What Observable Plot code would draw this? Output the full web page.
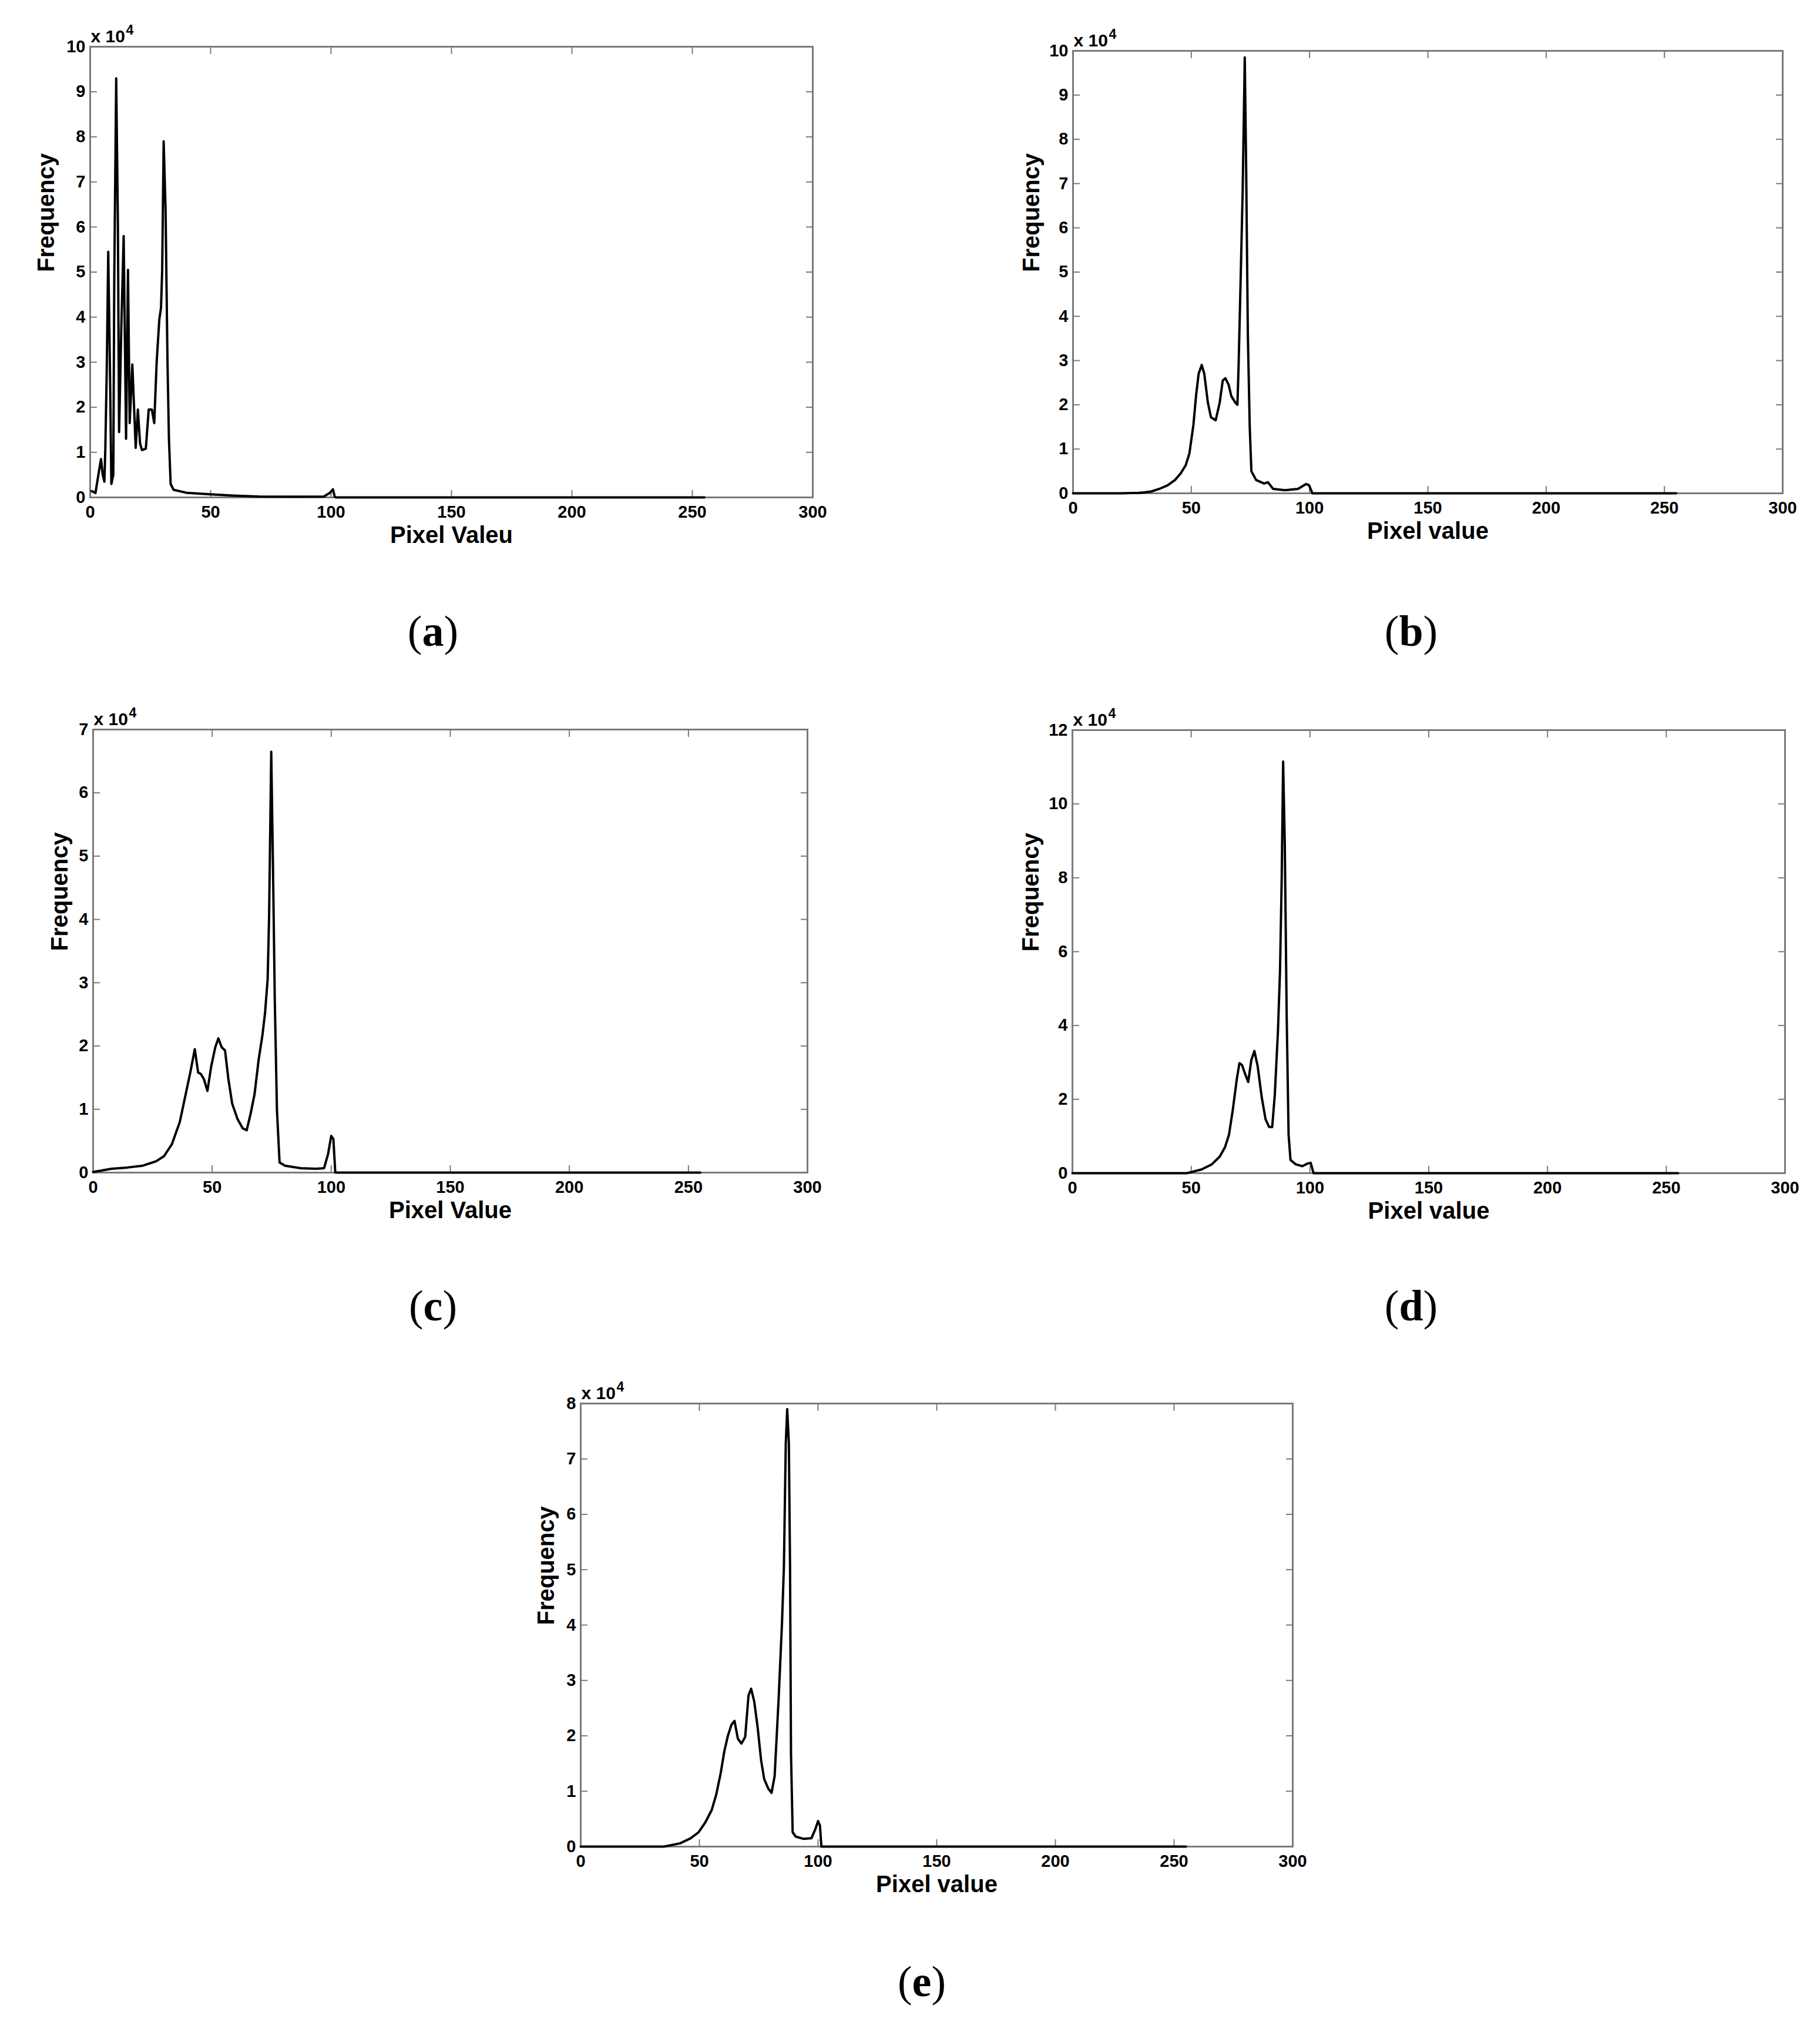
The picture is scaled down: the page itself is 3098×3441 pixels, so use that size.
<!DOCTYPE html>
<html>
<head>
<meta charset="utf-8">
<script src="https://cdn.jsdelivr.net/npm/d3@7"></script>
<script src="https://cdn.jsdelivr.net/npm/@observablehq/plot@0.6"></script>
<style>
  html, body { margin: 0; padding: 0; background: #fff; }
  #page { position: relative; width: 3098px; height: 3441px; background: #fff; overflow: hidden; }
  .panel { position: absolute; }
  .cap { position: absolute; transform: translate(-50%, -50%); font-family: "Liberation Serif", "DejaVu Serif", serif; font-size: 74px; line-height: 1; white-space: nowrap; color: #000; }
</style>
</head>
<body>
<div id="page"></div>
<script>
// ---------- data (frequency in units of 10^4) ----------
const xTicks = [0, 50, 100, 150, 200, 250, 300];
const yTicksA = [0, 1, 2, 3, 4, 5, 6, 7, 8, 9, 10];
const yTicksB = [0, 1, 2, 3, 4, 5, 6, 7, 8, 9, 10];
const yTicksC = [0, 1, 2, 3, 4, 5, 6, 7];
const yTicksD = [0, 2, 4, 6, 8, 10, 12];
const yTicksE = [0, 1, 2, 3, 4, 5, 6, 7, 8];

const xLabels = ["Pixel Valeu", "Pixel value", "Pixel Value", "Pixel value", "Pixel value"];
const yLabel = "Frequency";
const scaleNote = "x 10";
const scaleExp = "4";
const captions = ["a", "b", "c", "d", "e"];

const pixA = [0.6, 2.2, 3.4, 4.5, 5.2, 5.9, 6.3, 6.9, 7.5, 8.2, 8.8, 9.6, 10, 10.8, 11.5, 12, 12.9, 13.9, 14.9, 15.7, 16.4, 17.5, 18.9, 19.8, 20.7, 21.5, 23.1, 24.3, 25.6, 26.6, 27.6, 28.7, 29.4, 29.9, 30.5, 31.3, 32.1, 32.7, 33.4, 34.6, 40.3, 50, 60, 70, 85, 97, 99.5, 100.8, 101.5, 102, 255];
const freqA = [0.14, 0.1, 0.5, 0.85, 0.5, 0.35, 1.1, 2.9, 5.45, 2.9, 0.3, 0.5, 4.85, 9.3, 6.1, 1.45, 3.7, 5.8, 1.3, 5.05, 1.65, 2.95, 1.1, 1.95, 1.2, 1.05, 1.08, 1.95, 1.95, 1.65, 3.0, 3.95, 4.2, 5.05, 7.9, 6.4, 3.0, 1.3, 0.3, 0.17, 0.1, 0.07, 0.04, 0.02, 0.015, 0.02, 0.1, 0.18, 0.02, 0, 0];

const pixB = [0, 20, 27.7, 30, 33, 36.5, 40, 43.1, 45.5, 47.6, 49.2, 50.9, 52, 53.1, 54.4, 55.5, 57, 58.3, 60.3, 62, 63.3, 64.4, 65.8, 66.9, 68.6, 69.5, 70, 70.8, 71.7, 72.6, 73.2, 73.9, 74.7, 75.4, 77.4, 80.8, 82.4, 84.6, 89.6, 95.1, 98.5, 99.8, 101.2, 255];
const freqB = [0, 0, 0.01, 0.02, 0.04, 0.1, 0.18, 0.3, 0.45, 0.63, 0.9, 1.55, 2.2, 2.7, 2.9, 2.7, 2.05, 1.72, 1.65, 2.05, 2.55, 2.6, 2.45, 2.2, 2.05, 2.0, 2.9, 4.7, 6.8, 9.85, 7.3, 3.6, 1.5, 0.5, 0.3, 0.22, 0.25, 0.1, 0.07, 0.1, 0.21, 0.18, 0, 0];

const pixC = [0, 7.7, 14.3, 20.9, 26.5, 29.8, 33.1, 36.4, 38.6, 40.8, 42.7, 44.1, 45.2, 46.5, 48, 49.6, 51.3, 52.6, 54, 55.4, 56.8, 58.4, 60.6, 62.8, 64.5, 66.2, 67.8, 69.5, 71.1, 72.2, 73.3, 73.9, 74.8, 75.5, 76.3, 77.2, 78.3, 80.5, 87.1, 93.7, 97, 98.7, 100, 100.9, 101.7, 255];
const freqC = [0.01, 0.06, 0.08, 0.11, 0.18, 0.26, 0.45, 0.8, 1.19, 1.58, 1.95, 1.58, 1.56, 1.48, 1.29, 1.68, 1.98, 2.12, 1.98, 1.93, 1.48, 1.09, 0.85, 0.7, 0.67, 0.94, 1.24, 1.78, 2.17, 2.52, 3.06, 4.04, 6.65, 4.93, 2.71, 0.99, 0.16, 0.11, 0.07, 0.06, 0.07, 0.3, 0.58, 0.53, 0, 0];

const pixD = [0, 48, 50, 54.3, 58.7, 62, 64.2, 65.9, 67.5, 69.2, 70.3, 71.4, 72.5, 74, 75.3, 76.6, 78, 79.7, 81.3, 82.8, 84.1, 85.2, 86.5, 87.4, 88.1, 88.7, 89.4, 90.2, 91, 91.8, 94, 96.8, 99, 100.3, 101.5, 255];
const freqD = [0, 0, 0.03, 0.1, 0.24, 0.45, 0.7, 1.04, 1.71, 2.55, 2.98, 2.93, 2.72, 2.47, 3.06, 3.31, 2.89, 2.05, 1.46, 1.25, 1.25, 2.13, 3.82, 5.5, 8.0, 11.15, 8.9, 4.24, 1.04, 0.36, 0.24, 0.19, 0.26, 0.28, 0, 0];

const pixE = [0, 35, 36.3, 41.9, 46.3, 49.7, 52.4, 55.2, 57.1, 59, 60.5, 62, 63.5, 64.8, 66.2, 67.7, 69.3, 70.7, 71.8, 73.1, 74.5, 76, 77.3, 79, 80.4, 81.7, 83.4, 84.8, 85.6, 86.4, 87, 87.7, 88.2, 88.6, 89.3, 90.6, 93.9, 97.2, 98.9, 100, 100.8, 101.4, 255];
const freqE = [0, 0, 0.01, 0.06, 0.15, 0.26, 0.43, 0.66, 0.94, 1.33, 1.72, 2.0, 2.2, 2.27, 1.95, 1.86, 1.98, 2.73, 2.85, 2.62, 2.17, 1.56, 1.22, 1.05, 0.97, 1.27, 2.68, 4.03, 5.04, 7.28, 7.9, 7.28, 5.04, 1.67, 0.26, 0.18, 0.14, 0.15, 0.32, 0.46, 0.38, 0, 0];

// ---------- layout (pixel rectangles of each plot frame) ----------
const panels = [
  {pix: pixA, freq: freqA, yTicks: yTicksA, xLabel: xLabels[0], cap: captions[0], L: 153,  R: 1383, T: 79,   B: 846,  fdx: -74, cx: 737,  cy: 1074},
  {pix: pixB, freq: freqB, yTicks: yTicksB, xLabel: xLabels[1], cap: captions[1], L: 1826, R: 3034, T: 86,   B: 839,  fdx: -70, cx: 2402, cy: 1074},
  {pix: pixC, freq: freqC, yTicks: yTicksC, xLabel: xLabels[2], cap: captions[2], L: 158,  R: 1374, T: 1241, B: 1995, fdx: -56, cx: 737,  cy: 2222},
  {pix: pixD, freq: freqD, yTicks: yTicksD, xLabel: xLabels[3], cap: captions[3], L: 1825, R: 3038, T: 1242, B: 1996, fdx: -70, cx: 2402, cy: 2222},
  {pix: pixE, freq: freqE, yTicks: yTicksE, xLabel: xLabels[4], cap: captions[4], L: 988,  R: 2200, T: 2388, B: 3142, fdx: -58, cx: 1569, cy: 3372}
];

const page = document.getElementById("page");
const ml = 140, mr = 40, mt = 60, mb = 110;
const axisGray = "#7a7a7a";
const fmtInt = d3.format("d");

for (const p of panels) {
  const data = p.pix.map((x, i) => ({x, y: p.freq[i]}));
  const ymax = p.yTicks[p.yTicks.length - 1];
  const W = p.R - p.L, H = p.B - p.T;
  const chart = Plot.plot({
    width: W + ml + mr,
    height: H + mt + mb,
    marginLeft: ml, marginRight: mr, marginTop: mt, marginBottom: mb,
    x: {domain: [0, 300]},
    y: {domain: [0, ymax]},
    style: {fontFamily: "'Liberation Sans', Arial, sans-serif", fontWeight: "bold", fontSize: "29px", color: "#000", background: "transparent", overflow: "visible"},
    marks: [
      // inward ticks on all four sides
      Plot.axisX(xTicks, {anchor: "bottom", tickSize: -12, stroke: axisGray, strokeWidth: 2, tickFormat: () => "", label: null}),
      Plot.axisX(xTicks, {anchor: "top", tickSize: -12, stroke: axisGray, strokeWidth: 2, tickFormat: () => "", label: null}),
      Plot.axisY(p.yTicks, {anchor: "left", tickSize: -12, stroke: axisGray, strokeWidth: 2, tickFormat: () => "", label: null}),
      Plot.axisY(p.yTicks, {anchor: "right", tickSize: -12, stroke: axisGray, strokeWidth: 2, tickFormat: () => "", label: null}),
      // tick labels
      Plot.axisX(xTicks, {anchor: "bottom", tickSize: 0, tickPadding: 14, tickFormat: fmtInt, label: null, fill: "#000"}),
      Plot.axisY(p.yTicks, {anchor: "left", tickSize: 0, tickPadding: 8, tickFormat: fmtInt, label: null, fill: "#000"}),
      Plot.frame({stroke: axisGray, strokeWidth: 3}),
      Plot.line(data, {x: "x", y: "y", stroke: "#000", strokeWidth: 4, strokeLinejoin: "round"}),
      // axis titles
      Plot.text([p.xLabel], {frameAnchor: "bottom", lineAnchor: "bottom", dy: 77, fontSize: 40, fontWeight: "bold", fill: "#000"}),
      Plot.text([yLabel], {frameAnchor: "left", rotate: -90, lineAnchor: "middle", dx: p.fdx, fontSize: 40, fontWeight: "bold", fill: "#000"}),
      // exponent note
      Plot.text([scaleNote], {frameAnchor: "top-left", textAnchor: "start", lineAnchor: "bottom", dx: 1, dy: -8, fontSize: 30, fontWeight: "bold", fill: "#000"}),
      Plot.text([scaleExp], {frameAnchor: "top-left", textAnchor: "start", lineAnchor: "bottom", dx: 61, dy: -21, fontSize: 23, fontWeight: "bold", fill: "#000"})
    ]
  });
  chart.classList.add("panel");
  chart.style.left = (p.L - ml) + "px";
  chart.style.top = (p.T - mt) + "px";
  page.appendChild(chart);

  const cap = document.createElement("div");
  cap.className = "cap";
  cap.style.left = p.cx + "px";
  cap.style.top = p.cy + "px";
  cap.innerHTML = "(<b>" + p.cap + "</b>)";
  page.appendChild(cap);
}
</script>
</body>
</html>
